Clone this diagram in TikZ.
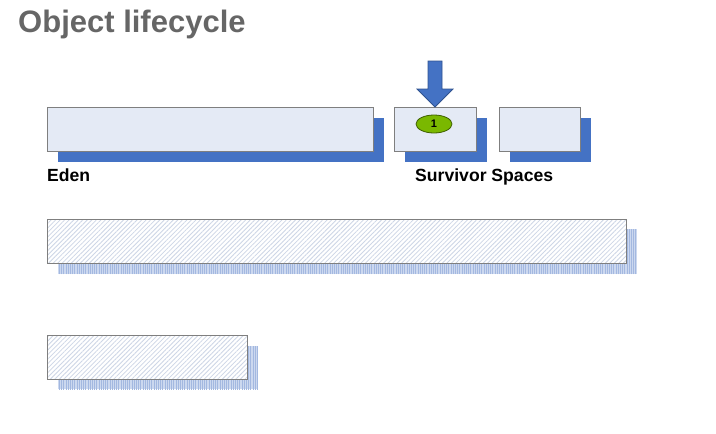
\documentclass[tikz,border=0pt]{standalone}
\usepackage{fontspec}
\setmainfont{Liberation Sans}
\usetikzlibrary{patterns.meta,shapes.geometric}
\definecolor{boxfill}{HTML}{E4EAF5}
\definecolor{boxline}{HTML}{7F7F7F}
\definecolor{shadowblue}{HTML}{4472C4}
\definecolor{arrowline}{HTML}{2F528F}
\definecolor{hatch}{HTML}{CDD6E6}
\definecolor{oldshadow}{HTML}{CCD8EF}
\definecolor{oldshadowline}{HTML}{A3B8E0}
\definecolor{titlegray}{HTML}{666666}
\definecolor{greenfill}{HTML}{7AB800}
\definecolor{greenline}{HTML}{3F6000}
\tikzset{
  spacebox/.style={draw=boxline, line width=1pt, fill=boxfill, rectangle, inner sep=0pt, anchor=north west},
  spaceshadow/.style={fill=shadowblue, draw=none, rectangle, inner sep=0pt, anchor=north west},
  oldbox/.style={fill=white, rectangle, inner sep=0pt, anchor=north west,
    postaction={pattern={Lines[angle=45, distance=3.2pt, line width=0.8pt]}, pattern color=hatch},
    postaction={draw=boxline, line width=1pt}},
  oldshadowbox/.style={fill=oldshadow, draw=none, rectangle, inner sep=0pt, anchor=north west,
    postaction={pattern={Lines[angle=90, distance=2.2pt, line width=0.7pt]}, pattern color=oldshadowline}},
  lbl/.style={font=\bfseries\fontsize{17.6}{20}\selectfont, anchor=base west, inner sep=0pt},
}
\begin{document}
\begin{tikzpicture}[x=1pt,y=-1pt]
\useasboundingbox (0,0) rectangle (716,434);
% title
\node[anchor=base west, inner sep=0pt, text=titlegray, font=\bfseries\fontsize{31}{34}\selectfont] (title) at (18,32) {Object lifecycle};
% young generation shadows
\node[spaceshadow, minimum width=326pt, minimum height=44pt] (edensh) at (58,118) {};
\node[spaceshadow, minimum width=82pt, minimum height=44pt] (s1sh) at (405,118) {};
\node[spaceshadow, minimum width=81pt, minimum height=44pt] (s2sh) at (510,118) {};
% young generation boxes
\node[spacebox, minimum width=326pt, minimum height=44pt] (eden) at (47,107) {};
\node[spacebox, minimum width=82pt, minimum height=44pt] (s1) at (394,107) {};
\node[spacebox, minimum width=81pt, minimum height=44pt] (s2) at (499,107) {};
% labels
\node[lbl] (edenlbl) at (47,181) {Eden};
\node[lbl] (survlbl) at (415,181) {Survivor Spaces};
% arrow
\fill[shadowblue, draw=arrowline, line width=0.8pt, line join=miter]
  (428,61) -- (442,61) -- (442,89) -- (453,89) -- (435,107) -- (417,89) -- (428,89) -- cycle;
% object
\node[ellipse, draw=greenline, line width=0.8pt, fill=greenfill, minimum width=36pt, minimum height=18pt, inner sep=0pt, font=\bfseries\fontsize{11}{12}\selectfont] (obj) at (434,124) {1};
% old generation
\node[oldshadowbox, minimum width=579pt, minimum height=45pt] (old1sh) at (58,229) {};
\node[oldbox, minimum width=579pt, minimum height=44pt] (old1) at (47,219) {};
\node[oldshadowbox, minimum width=200pt, minimum height=43pt] (old2sh) at (58,346) {};
\node[oldbox, minimum width=200pt, minimum height=44pt] (old2) at (47,335) {};
\end{tikzpicture}
\end{document}
